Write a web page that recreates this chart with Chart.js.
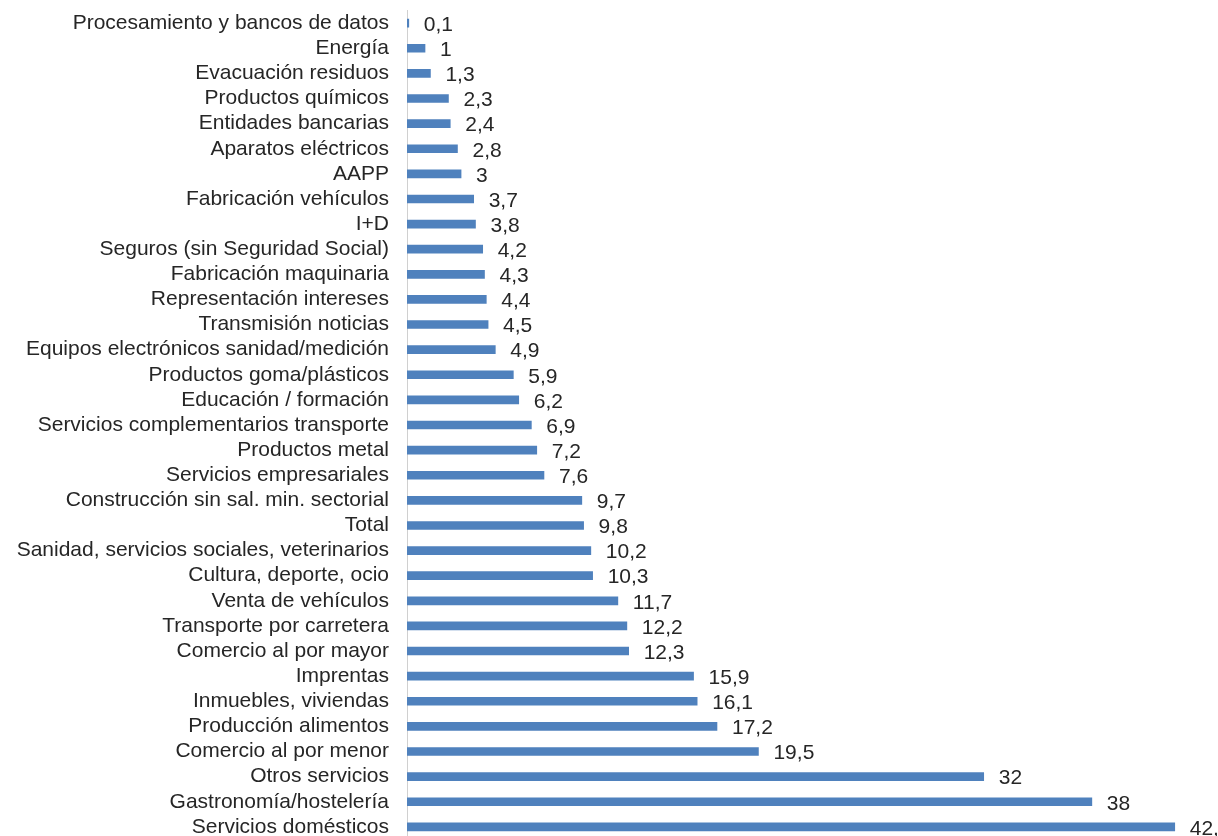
<!DOCTYPE html>
<html>
<head>
<style>
  body { margin: 0; overflow: hidden; background: #fff; }
  #wrap { position: relative; width: 1218px; height: 890px; margin-top: -20px; }
</style>
</head>

<body>

<div id="wrap">
  <canvas id="myChart"></canvas>
</div>

<script src="https://cdn.jsdelivr.net/npm/chart.js"></script>

<script>
  const labels = [
    'Procesamiento y bancos de datos', 'Energía', 'Evacuación residuos',
    'Productos químicos', 'Entidades bancarias', 'Aparatos eléctricos', 'AAPP',
    'Fabricación vehículos', 'I+D', 'Seguros (sin Seguridad Social)',
    'Fabricación maquinaria', 'Representación intereses', 'Transmisión noticias',
    'Equipos electrónicos sanidad/medición', 'Productos goma/plásticos',
    'Educación / formación', 'Servicios complementarios transporte',
    'Productos metal', 'Servicios empresariales',
    'Construcción sin sal. min. sectorial', 'Total',
    'Sanidad, servicios sociales, veterinarios', 'Cultura, deporte, ocio',
    'Venta de vehículos', 'Transporte por carretera', 'Comercio al por mayor',
    'Imprentas', 'Inmuebles, viviendas', 'Producción alimentos',
    'Comercio al por menor', 'Otros servicios', 'Gastronomía/hostelería',
    'Servicios domésticos'
  ];

  const values = [
    0.1, 1, 1.3, 2.3, 2.4, 2.8, 3, 3.7, 3.8, 4.2, 4.3, 4.4, 4.5, 4.9, 5.9,
    6.2, 6.9, 7.2, 7.6, 9.7, 9.8, 10.2, 10.3, 11.7, 12.2, 12.3, 15.9, 16.1,
    17.2, 19.5, 32, 38, 42.6
  ];

  const xMax = 45;
</script>

<script>
  const fontFam = '"Liberation Sans", Arial, sans-serif';

  // draws the value next to the end of every bar, comma as decimal mark
  const valueLabels = {
    id: 'valueLabels',
    afterDatasetsDraw(chart) {
      const ctx = chart.ctx;
      const meta = chart.getDatasetMeta(0);
      ctx.save();
      ctx.font = '21px ' + fontFam;
      ctx.fillStyle = '#262626';
      ctx.textAlign = 'left';
      ctx.textBaseline = 'middle';
      meta.data.forEach(function(bar, i) {
        const txt = String(values[i]).replace('.', ',');
        ctx.fillText(txt, bar.x + 15, bar.y + 2);
      });
      ctx.restore();
    }
  };

  const config = {
    type: 'bar',
    data: {
      labels: labels,
      datasets: [{
        data: values,
        backgroundColor: 'rgb(79, 129, 189)',
        barThickness: 8
      }]
    },
    options: {
      indexAxis: 'y',
      responsive: true,
      maintainAspectRatio: false,
      animation: false,
      layout: { padding: 0 },
      plugins: {
        legend: { display: false },
        tooltip: { enabled: false }
      },
      scales: {
        x: {
          display: false,
          min: 0,
          max: xMax
        },
        y: {
          grid: { display: false, drawTicks: false },
          border: { display: true, color: '#d0d0d0', width: 1 },
          ticks: {
            padding: 18,
            color: '#262626',
            autoSkip: false,
            font: { family: fontFam, size: 21 }
          },
          afterFit: function(scale) { scale.width = 407; }
        }
      }
    },
    plugins: [valueLabels]
  };

  const myChart = new Chart(document.getElementById('myChart'), config);
</script>

</body>
</html>
